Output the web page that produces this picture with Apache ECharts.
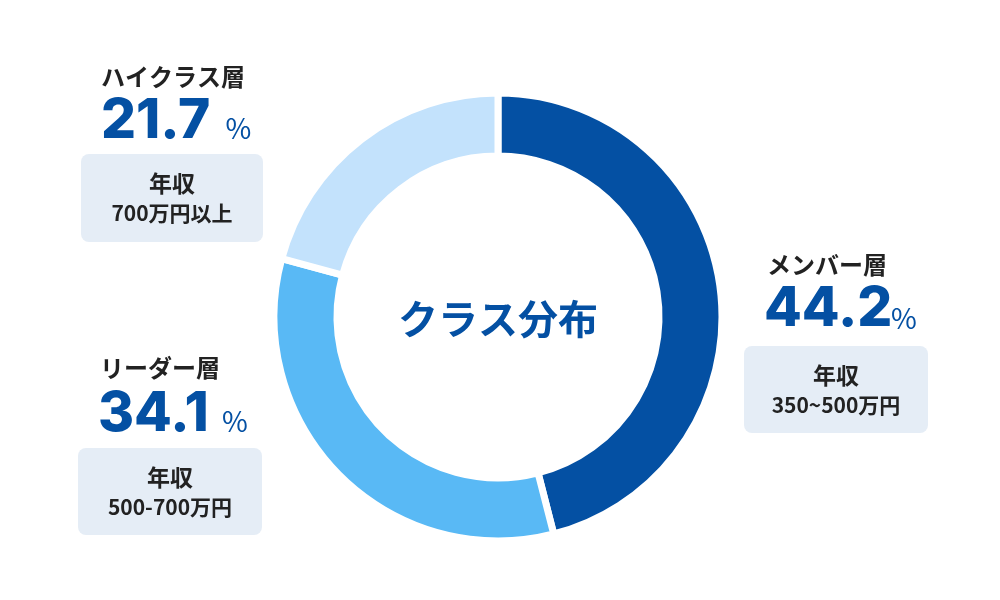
<!DOCTYPE html>
<html>
<head>
<meta charset="utf-8">
<script src="https://cdn.jsdelivr.net/npm/echarts@6/dist/echarts.min.js"></script>
<style>
html,body{margin:0;padding:0;background:#fff;}
#chart{width:1000px;height:600px;}
</style>
</head>
<body>
<div id="chart"></div>
<script>
// ---- data ----
const categories = ['メンバー層', 'リーダー層', 'ハイクラス層'];
const labelPercents = [44.2, 34.1, 21.7];          // printed percentages
const arcShares = [46.0, 33.2, 20.8];              // slice sizes as drawn in the ring
const incomeHeads = ['年収', '年収', '年収'];
const incomeRanges = ['350~500万円', '500-700万円', '700万円以上'];
const centerTitle = 'クラス分布';

// ---- style / layout ----
const colors = ['#0450A3', '#59B9F5', '#C3E2FC'];
const JP = '"Noto Sans CJK JP", "Noto Sans", sans-serif';
const NUM = 'Inter, "Noto Sans", sans-serif';
const layout = [
  { tx: 767, ty: 265, nx: 764, ny: 309.5, px: 891, py: 318, bx: 744, by: 346, bw: 184, bh: 87 },
  { tx: 100, ty: 368, nx: 98, ny: 414.5, px: 222, py: 421.5, bx: 78, by: 448, bw: 184, bh: 87 },
  { tx: 101, ty: 76.5, nx: 101, ny: 121, px: 225.5, py: 128.5, bx: 81, by: 154, bw: 182, bh: 88 }
];

function txt(x, y, text, font, fill, align) {
  return {
    type: 'text', x: x, y: y, silent: true,
    style: { text: text, font: font, fill: fill, align: align, verticalAlign: 'middle', textAlign: align, textVerticalAlign: 'middle' }
  };
}

const graphics = [];
categories.forEach((name, i) => {
  const L = layout[i];
  graphics.push({
    type: 'rect', silent: true, shape: { x: L.bx, y: L.by, width: L.bw, height: L.bh, r: 8 },
    style: { fill: '#E5EDF6' }
  });
  graphics.push(txt(L.tx, L.ty, name, 'bold 24px ' + JP, '#222', 'left'));
  graphics.push(txt(L.nx, L.ny, labelPercents[i].toFixed(1), '800 55px ' + NUM, '#0450A3', 'left'));
  graphics.push(txt(L.px, L.py, '%', '400 28px ' + JP, '#0450A3', 'left'));
  const cx = L.bx + L.bw / 2;
  graphics.push(txt(cx, L.by + 29, incomeHeads[i], 'bold 23px ' + JP, '#222', 'center'));
  graphics.push(txt(cx, L.by + 59, incomeRanges[i], 'bold 21px ' + JP, '#222', 'center'));
});
graphics.push(txt(498, 319, centerTitle, 'bold 40px ' + JP, '#0450A3', 'center'));

const chart = echarts.init(document.getElementById('chart'), null, { renderer: 'canvas' });
chart.setOption({
  animation: false,
  backgroundColor: '#fff',
  series: [{
    type: 'pie',
    center: [498, 317],
    radius: [161, 224],
    startAngle: 90,
    clockwise: true,
    label: { show: false },
    labelLine: { show: false },
    emphasis: { disabled: true },
    silent: true,
    itemStyle: { borderColor: '#fff', borderWidth: 7 },
    data: categories.map((n, i) => ({ name: n, value: arcShares[i], itemStyle: { color: colors[i] } }))
  }],
  graphic: graphics
});
</script>
</body>
</html>
